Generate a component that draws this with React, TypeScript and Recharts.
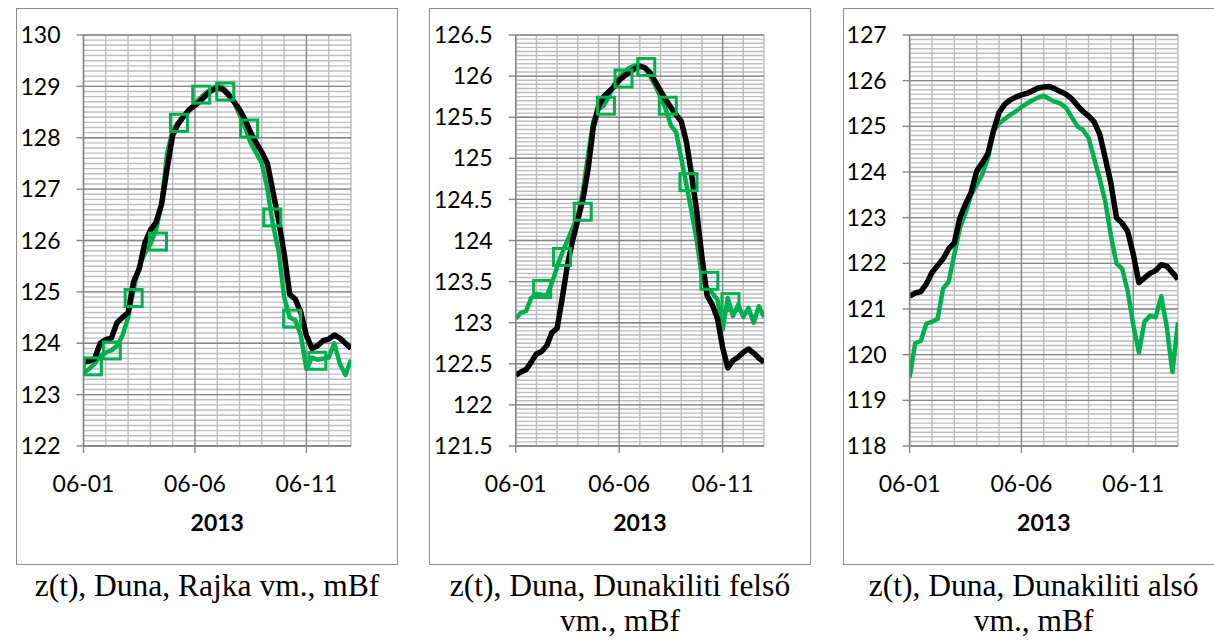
import { CartesianGrid, ComposedChart, Line, XAxis, YAxis } from "recharts";

const BLACK = "#000000";
const GREEN = "#00b050";
const MINOR_GRID = "#bdbdbd";
const MAJOR_GRID = "#878787";

// samples are 6 hours apart, day 0 = 2013-06-01 00:00
const STEP_DAYS = 0.25;
const DATE_TICKS = [0, 5, 10];
const DATE_LABELS = ["06-01", "06-06", "06-11"];
const YEAR_TITLE = "2013";

// Rajka
const rajkaTicks = [122, 123, 124, 125, 126, 127, 128, 129, 130];
const rajkaBlack = [
  123.64, 123.65, 123.7, 124.0, 124.07, 124.1, 124.4, 124.5, 124.6, 125.2,
  125.45, 125.95, 126.2, 126.35, 126.7, 127.4, 128.05, 128.27, 128.42, 128.55,
  128.63, 128.72, 128.83, 128.92, 128.97, 128.94, 128.84, 128.7, 128.55, 128.35,
  128.1, 127.9, 127.72, 127.5, 126.95, 126.4, 125.75, 124.95, 124.86, 124.6,
  124.15, 123.9, 123.95, 124.05, 124.08, 124.16, 124.1, 124.0, 123.9,
];
const rajkaGreen = [
  123.42, 123.5, 123.6, 123.75, 123.82, 123.86, 123.95, 124.15, 124.5, 125.05,
  125.5, 125.75, 125.93, 126.2, 126.7, 127.7, 128.15, 128.3, 128.43, 128.55,
  128.67, 128.78, 128.88, 128.95, 129.02, 128.98, 128.87, 128.7, 128.45, 128.2,
  127.9, 127.7, 127.5, 127.0, 126.3, 125.8, 124.9, 124.5, 124.45, 124.15,
  123.5, 123.72, 123.68, 123.7, 123.72, 124.0, 123.6, 123.38, 123.68,
];
const rajkaSquareDays = [0.42, 1.27, 2.25, 3.34, 4.28, 5.28, 6.36, 7.43, 8.47, 9.36, 10.49];
const rajkaSquareValues = [123.55, 123.86, 124.88, 125.98, 128.29, 128.84, 128.9, 128.18, 126.45, 124.48, 123.66];

// Dunakiliti felső
const felsoTicks = [121.5, 122, 122.5, 123, 123.5, 124, 124.5, 125, 125.5, 126, 126.5];
const felsoBlack = [
  122.36, 122.4, 122.43, 122.52, 122.62, 122.65, 122.72, 122.88, 122.93, 123.3,
  123.7, 124.0, 124.25, 124.5, 124.87, 125.38, 125.63, 125.75, 125.81, 125.87,
  125.95, 126.0, 126.05, 126.09, 126.12, 126.1, 126.04, 125.93, 125.82, 125.71,
  125.62, 125.53, 125.45, 125.2, 124.8, 124.35, 123.8, 123.33, 123.22, 123.05,
  122.7, 122.45, 122.54, 122.58, 122.64, 122.68, 122.63, 122.57, 122.52,
];
const felsoGreen = [
  123.05, 123.12, 123.14, 123.3, 123.35, 123.34, 123.33, 123.48, 123.68, 123.85,
  124.0, 124.15, 124.3, 124.6, 125.05, 125.45, 125.6, 125.64, 125.75, 125.9,
  125.98, 126.05, 126.1, 126.13, 126.13, 126.1, 126.0, 125.88, 125.75, 125.6,
  125.4, 125.32, 125.0, 124.68, 124.35, 124.0, 123.55, 123.42, 123.36, 123.28,
  122.92, 123.3, 123.08, 123.22, 123.07, 123.18, 123.0, 123.2, 123.07,
];
const felsoSquareDays = [1.28, 2.24, 3.24, 4.36, 5.21, 6.31, 7.35, 8.35, 9.36, 10.38];
const felsoSquareValues = [123.41, 123.8, 124.35, 125.64, 125.97, 126.11, 125.64, 124.71, 123.51, 123.25];

// Dunakiliti alsó
const alsoTicks = [118, 119, 120, 121, 122, 123, 124, 125, 126, 127];
const alsoBlack = [
  121.28, 121.35, 121.38, 121.55, 121.8, 121.95, 122.1, 122.32, 122.45, 123.0,
  123.3, 123.55, 124.02, 124.2, 124.4, 124.9, 125.3, 125.48, 125.58, 125.64,
  125.69, 125.72, 125.78, 125.84, 125.86, 125.87, 125.82, 125.76, 125.7, 125.6,
  125.46, 125.33, 125.23, 125.1, 124.83, 124.3, 123.75, 123.0, 122.88, 122.7,
  122.2, 121.58, 121.68, 121.78, 121.84, 121.97, 121.94, 121.8, 121.65,
];
const alsoGreen = [
  119.5, 120.25, 120.3, 120.68, 120.72, 120.78, 121.45, 121.6, 122.2, 122.78,
  123.1, 123.5, 123.72, 123.95, 124.3, 124.9, 125.06, 125.16, 125.25, 125.33,
  125.42, 125.5, 125.57, 125.63, 125.67, 125.6, 125.54, 125.5, 125.4, 125.2,
  125.0, 124.92, 124.75, 124.3, 123.85, 123.35, 122.6, 122.0, 121.88, 121.4,
  120.65, 120.05, 120.72, 120.85, 120.82, 121.28, 120.6, 119.62, 120.71,
];

const toRows = (values: number[]) => values.map((v, i) => ({ d: i * STEP_DAYS, v }));
const toPoints = (days: number[], values: number[]) => days.map((d, i) => ({ d, v: values[i] }));

const minorValues = (ticks: number[], step: number) => {
  const out: number[] = [];
  const lo = ticks[0];
  const n = Math.round((ticks[ticks.length - 1] - lo) / step);
  for (let i = 0; i <= n; i++) out.push(+(lo + i * step).toFixed(3));
  return out;
};
const dayLines = [0, 1, 2, 3, 4, 5, 6, 7, 8, 9, 10, 11, 12];

const tickFont = { fill: "#000", fontSize: 23, fontFamily: "Lato" };

const Square = (props: any) => {
  const { cx, cy, index } = props;
  if (cx == null || cy == null) return <g key={`sq-${index}`} />;
  return (
    <rect key={`sq-${index}`} x={cx - 8.5} y={cy - 8.5} width={17} height={17} fill="none" stroke={GREEN} strokeWidth={3} />
  );
};

type PanelProps = {
  left: number;
  axisWidth: number;
  ticks: number[];
  minorStep: number;
  black: number[];
  green: number[];
  squares?: { d: number; v: number }[];
  caption: string[];
};

function Panel({ left, axisWidth, ticks, minorStep, black, green, squares, caption }: PanelProps) {
  return (
    <>
      <div
        style={{
          position: "absolute",
          left,
          top: 8,
          width: 382,
          height: 557,
          boxSizing: "border-box",
          border: "1.5px solid #8c8c8c",
        }}
      />
      <div style={{ position: "absolute", left, top: 8 }}>
        <ComposedChart width={382} height={557} margin={{ top: 27, right: 47, bottom: 19, left: 0 }}>
          <CartesianGrid
            stroke={MINOR_GRID}
            strokeWidth={1.4}
            horizontalValues={minorValues(ticks, minorStep)}
            verticalValues={dayLines}
          />
          <CartesianGrid stroke={MAJOR_GRID} strokeWidth={1.4} horizontalValues={ticks} verticalValues={DATE_TICKS} />
          <XAxis
            dataKey="d"
            type="number"
            domain={[0, 12]}
            ticks={DATE_TICKS}
            tickFormatter={(t: number) => DATE_LABELS[DATE_TICKS.indexOf(t)]}
            tick={tickFont}
            tickSize={7}
            tickMargin={23}
            stroke={MAJOR_GRID}
            strokeWidth={1.4}
            height={100}
            allowDataOverflow
            label={{
              value: YEAR_TITLE,
              position: "insideBottom",
              offset: 15,
              style: { fill: "#000", fontSize: 23, fontFamily: "Lato", fontWeight: 700 },
            }}
          />
          <YAxis
            type="number"
            domain={[ticks[0], ticks[ticks.length - 1]]}
            ticks={ticks}
            tick={tickFont}
            tickSize={7}
            tickMargin={16}
            stroke={MAJOR_GRID}
            strokeWidth={1.4}
            width={axisWidth}
            interval={0}
            allowDataOverflow
          />
          {squares && (
            <Line
              data={squares}
              dataKey="v"
              stroke="none"
              dot={Square}
              activeDot={false}
              isAnimationActive={false}
            />
          )}
          <Line
            data={toRows(green)}
            dataKey="v"
            stroke={GREEN}
            strokeWidth={4.5}
            strokeLinejoin="round"
            dot={false}
            activeDot={false}
            isAnimationActive={false}
          />
          <Line
            data={toRows(black)}
            dataKey="v"
            stroke={BLACK}
            strokeWidth={5.5}
            strokeLinejoin="round"
            dot={false}
            activeDot={false}
            isAnimationActive={false}
          />
        </ComposedChart>
      </div>
      <div
        style={{
          position: "absolute",
          left: left - 10,
          top: 567.5,
          width: 402,
          textAlign: "center",
          fontFamily: "'Liberation Serif', serif",
          fontSize: 31.5,
          lineHeight: "35.7px",
          color: "#000",
          whiteSpace: "nowrap",
        }}
      >
        {caption.map((line) => (
          <div key={line}>{line}</div>
        ))}
      </div>
    </>
  );
}

export default function App() {
  return (
    <div
      style={{
        position: "fixed",
        left: 0,
        top: 0,
        width: 1214,
        height: 640,
        overflow: "hidden",
        background: "#fff",
      }}
    >
      <Panel
        left={16}
        axisWidth={67.5}
        ticks={rajkaTicks}
        minorStep={0.1}
        black={rajkaBlack}
        green={rajkaGreen}
        squares={toPoints(rajkaSquareDays, rajkaSquareValues)}
        caption={["z(t), Duna, Rajka vm., mBf"]}
      />
      <Panel
        left={429}
        axisWidth={86.7}
        ticks={felsoTicks}
        minorStep={0.05}
        black={felsoBlack}
        green={felsoGreen}
        squares={toPoints(felsoSquareDays, felsoSquareValues)}
        caption={["z(t), Duna, Dunakiliti felső", "vm., mBf"]}
      />
      <Panel
        left={842.7}
        axisWidth={66.6}
        ticks={alsoTicks}
        minorStep={0.1}
        black={alsoBlack}
        green={alsoGreen}
        caption={["z(t), Duna, Dunakiliti alsó", "vm., mBf"]}
      />
    </div>
  );
}
